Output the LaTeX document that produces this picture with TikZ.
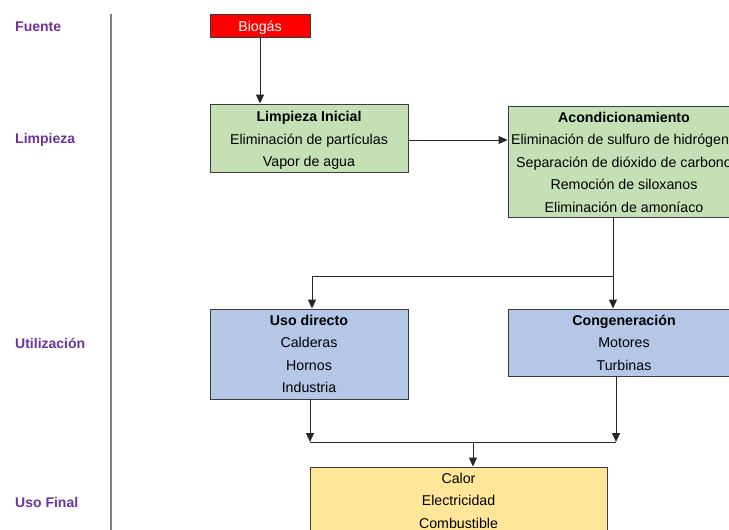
\documentclass[tikz,border=0pt]{standalone}
\usepackage{fontspec}
\setmainfont{Liberation Sans}
\usetikzlibrary{arrows.meta}
\definecolor{morado}{RGB}{112,48,160}
\definecolor{rojo}{RGB}{255,0,0}
\definecolor{verde}{RGB}{197,224,180}
\definecolor{azul}{RGB}{180,199,231}
\definecolor{amarillo}{RGB}{255,230,153}
\definecolor{borde}{RGB}{60,60,60}
\newcommand{\etapa}[3]{\node[etapa] (#1) at (15,#2) {#3}}
\newcommand{\titulo}[1]{\textbf{#1}}
\newcommand{\alto}[1]{\rule{0pt}{#1}}
\tikzset{
	etapa/.style={anchor=west,inner sep=0pt,text=morado,font=\fontsize{14}{16}\selectfont\bfseries},
	caja/.style={draw=borde,line width=0.9pt,inner sep=0pt,align=center,
		font=\fontsize{14.2}{22.5}\selectfont},
	flecha/.style={draw=black!85,line width=0.9pt,-{Triangle[length=9pt,width=8pt]}},
	linea/.style={draw=black!85,line width=0.9pt}
}

\begin{document}
\begin{tikzpicture}[x=1pt,y=-1pt]
	\clip (0,0) rectangle (729,530);
	\fill[white] (0,0) rectangle (729,530);
	% etapas
	\draw[gray,line width=1.4pt] (111,14) -- (111,530);
	\etapa{fuente}{27}{Fuente};
	\etapa{limp}{140}{Limpieza};
	\etapa{util}{343}{Utilización};
	\etapa{usofin}{502}{Uso Final};
	% cajas
	\node[caja,fill=rojo,text=white,minimum width=100,minimum height=23] (biogas) at (260,25.5) {\alto{15.5pt}Biogás};
	\node[caja,fill=verde,minimum width=198,minimum height=68] (limpieza) at (309,138)
		{\alto{15pt}\titulo{Limpieza Inicial}\\Eliminación de partículas\\Vapor de agua};
	\node[caja,fill=verde,minimum width=232,minimum height=111] (acond) at (624,161.5)
		{\alto{12pt}\titulo{Acondicionamiento}\\Eliminación de sulfuro de hidrógeno\\Separación de dióxido de carbono\\Remoción de siloxanos\\Eliminación de amoníaco};
	\node[caja,fill=azul,minimum width=198,minimum height=90] (uso) at (309,354)
		{\titulo{Uso directo}\\Calderas\\Hornos\\Industria};
	\node[caja,fill=azul,minimum width=232,minimum height=67] (cogen) at (624,342.5)
		{\titulo{Congeneración}\\Motores\\Turbinas};
	\node[caja,fill=amarillo,minimum width=297,minimum height=67] (final) at (458.5,500.5)
		{Calor\\Electricidad\\Combustible};
	% conexiones
	\coordinate (ramal) at (613,276);
	\coordinate (bajada) at (616,442);
	\coordinate (union) at (473,442);
	\draw[flecha] (biogas.south) -- (biogas.south |- limpieza.north);
	\draw[flecha] (limpieza.east |- 0,140) -- (acond.west |- 0,140);
	\draw[linea] (ramal |- acond.south) -- (ramal);
	\draw[flecha] (ramal) -| ([xshift=3pt]uso.north);
	\draw[flecha] (ramal) -- (ramal |- cogen.north);
	\draw[flecha] ([xshift=1pt]uso.south) -- ([xshift=1pt]uso.south |- bajada);
	\draw[flecha] (bajada |- cogen.south) -- (bajada);
	\draw[linea] ([xshift=1pt]uso.south |- bajada) -- (bajada);
	\draw[flecha] (union) -- (union |- final.north);
\end{tikzpicture}
\end{document}
